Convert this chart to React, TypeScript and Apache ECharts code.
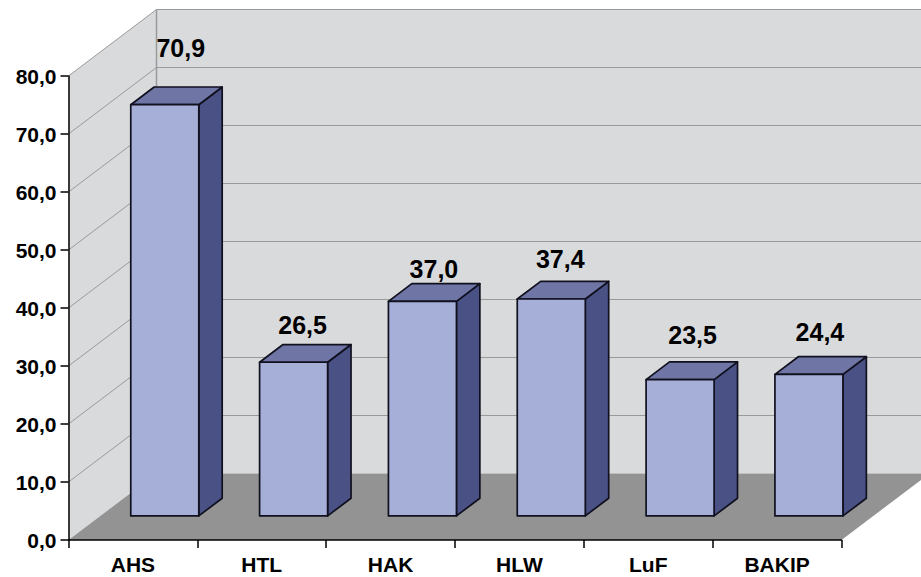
import React, { useEffect, useRef } from "react";
import * as echarts from "echarts";

const categories = ["AHS", "HTL", "HAK", "HLW", "LuF", "BAKIP"];
const values = [70.9, 26.5, 37.0, 37.4, 23.5, 24.4];
const gridTicks = [10, 20, 30, 40, 50, 60, 70, 80];

// 3D projection of the chart box, in pixels
const DEPTH_X = 88;
const DEPTH_Y = -66.5;
const BAR_DEPTH_START = 0.362;
const BAR_DEPTH_END = 0.628;
const BAR_WIDTH_SHARE = 68 / 128.8;
// hand placed data label offsets from the bar's front top centre
const labelDx = [16, 9, 11.5, 9, 12.5, 11];
const labelDy = [-57, -37, -32, -40, -45, -42];

const FONT = '"Liberation Sans", Arial, sans-serif';
const WALL = "#d9dadc";
const FLOOR = "#939393";
const EDGE = "#9a9a9a";
const FRONT = "#a6afd7";
const TOP = "#6f76a6";
const SIDE = "#4a5185";
const OUTLINE = "#10101f";

const fmt = (v: number) => v.toFixed(1).replace(".", ",");

export default function App() {
  const ref = useRef<HTMLDivElement>(null);
  useEffect(() => {
    const chart = echarts.init(ref.current!, null, { renderer: "svg" });
    chart.setOption({
      animation: false,
      backgroundColor: "#ffffff",
      grid: { left: 68.5, right: 79.5, top: 76, bottom: 37, containLabel: false },
      xAxis: {
        type: "category",
        data: categories,
        z: 10,
        axisLine: { lineStyle: { color: "#000", width: 1.5 } },
        axisTick: { show: true, alignWithLabel: false, length: 8, lineStyle: { color: "#000", width: 1.5 } },
        axisLabel: { color: "#000", fontFamily: FONT, fontWeight: "bold", fontSize: 21, margin: 14, interval: 0 },
        splitLine: { show: false },
      },
      yAxis: {
        type: "value",
        min: 0,
        max: 80,
        interval: 10,
        z: 10,
        axisLine: { show: true, lineStyle: { color: "#000", width: 1.5 } },
        axisTick: { show: true, length: 8, lineStyle: { color: "#000", width: 1.5 } },
        axisLabel: { color: "#000", fontFamily: FONT, fontWeight: "bold", fontSize: 21, margin: 12, formatter: (v: number) => fmt(v) },
        splitLine: { show: false },
      },
      series: [
        {
          type: "custom",
          silent: true,
          z: 1,
          data: [[0, 0]],
          renderItem: (params: any, api: any) => {
            const r = params.coordSys;
            const y0 = api.coord([0, 0])[1];
            const yt = api.coord([0, 80])[1];
            const L = r.x;
            const R = r.x + r.width;
            const shape = (points: number[][], fill: string) => ({
              type: "polygon",
              shape: { points },
              style: { fill, stroke: null },
            });
            return {
              type: "group",
              children: [
                shape([[L, y0], [L + DEPTH_X, y0 + DEPTH_Y], [L + DEPTH_X, yt + DEPTH_Y], [L, yt]], WALL),
                shape([[L + DEPTH_X, y0 + DEPTH_Y], [R + DEPTH_X, y0 + DEPTH_Y], [R + DEPTH_X, yt + DEPTH_Y], [L + DEPTH_X, yt + DEPTH_Y]], WALL),
                shape([[L, y0], [L + DEPTH_X, y0 + DEPTH_Y], [R + DEPTH_X, y0 + DEPTH_Y], [R, y0]], FLOOR),
                {
                  type: "line",
                  shape: { x1: L + DEPTH_X, y1: yt + DEPTH_Y, x2: L + DEPTH_X, y2: y0 + DEPTH_Y },
                  style: { stroke: EDGE, lineWidth: 1.5 },
                },
              ],
            };
          },
        },
        {
          type: "custom",
          silent: true,
          z: 2,
          data: gridTicks.map((t) => [0, t]),
          renderItem: (params: any, api: any) => {
            const r = params.coordSys;
            const y = api.coord([0, api.value(1)])[1];
            const L = r.x;
            const R = r.x + r.width;
            return {
              type: "group",
              children: [
                {
                  type: "line",
                  shape: { x1: L, y1: y, x2: L + DEPTH_X, y2: y + DEPTH_Y },
                  style: { stroke: EDGE, lineWidth: 1 },
                },
                {
                  type: "line",
                  shape: { x1: L + DEPTH_X, y1: y + DEPTH_Y, x2: R + DEPTH_X, y2: y + DEPTH_Y },
                  style: { stroke: EDGE, lineWidth: 1 },
                },
              ],
            };
          },
        },
        {
          type: "custom",
          z: 3,
          data: values.map((v, i) => [i, v]),
          encode: { x: 0, y: 1 },
          renderItem: (params: any, api: any) => {
            const i = api.value(0);
            const v = api.value(1);
            const c = api.coord([i, v]);
            const b = api.coord([i, 0]);
            const w = api.size([1, 0])[0] * BAR_WIDTH_SHARE;
            const ox = DEPTH_X * BAR_DEPTH_START;
            const oy = DEPTH_Y * BAR_DEPTH_START;
            const sx = DEPTH_X * (BAR_DEPTH_END - BAR_DEPTH_START);
            const sy = DEPTH_Y * (BAR_DEPTH_END - BAR_DEPTH_START);
            const x1 = c[0] + ox - w / 2;
            const x2 = x1 + w;
            const yTop = c[1] + oy;
            const yBot = b[1] + oy;
            const face = (points: number[][], fill: string) => ({
              type: "polygon",
              shape: { points },
              style: { fill, stroke: OUTLINE, lineWidth: 1.7, lineJoin: "round" },
            });
            return {
              type: "group",
              children: [
                face([[x2, yTop], [x2 + sx, yTop + sy], [x2 + sx, yBot + sy], [x2, yBot]], SIDE),
                face([[x1, yTop], [x1 + sx, yTop + sy], [x2 + sx, yTop + sy], [x2, yTop]], TOP),
                face([[x1, yTop], [x2, yTop], [x2, yBot], [x1, yBot]], FRONT),
                {
                  type: "text",
                  style: {
                    x: (x1 + x2) / 2 + labelDx[i],
                    y: yTop + labelDy[i],
                    text: fmt(v),
                    fill: "#000",
                    font: `bold 25px ${FONT}`,
                    align: "center",
                    verticalAlign: "middle",
                  },
                },
              ],
            };
          },
        },
      ],
    });
    return () => chart.dispose();
  }, []);
  return (
    <div
      ref={ref}
      style={{ position: "absolute", left: 0, top: 0, width: 921, height: 577 }}
    />
  );
}
